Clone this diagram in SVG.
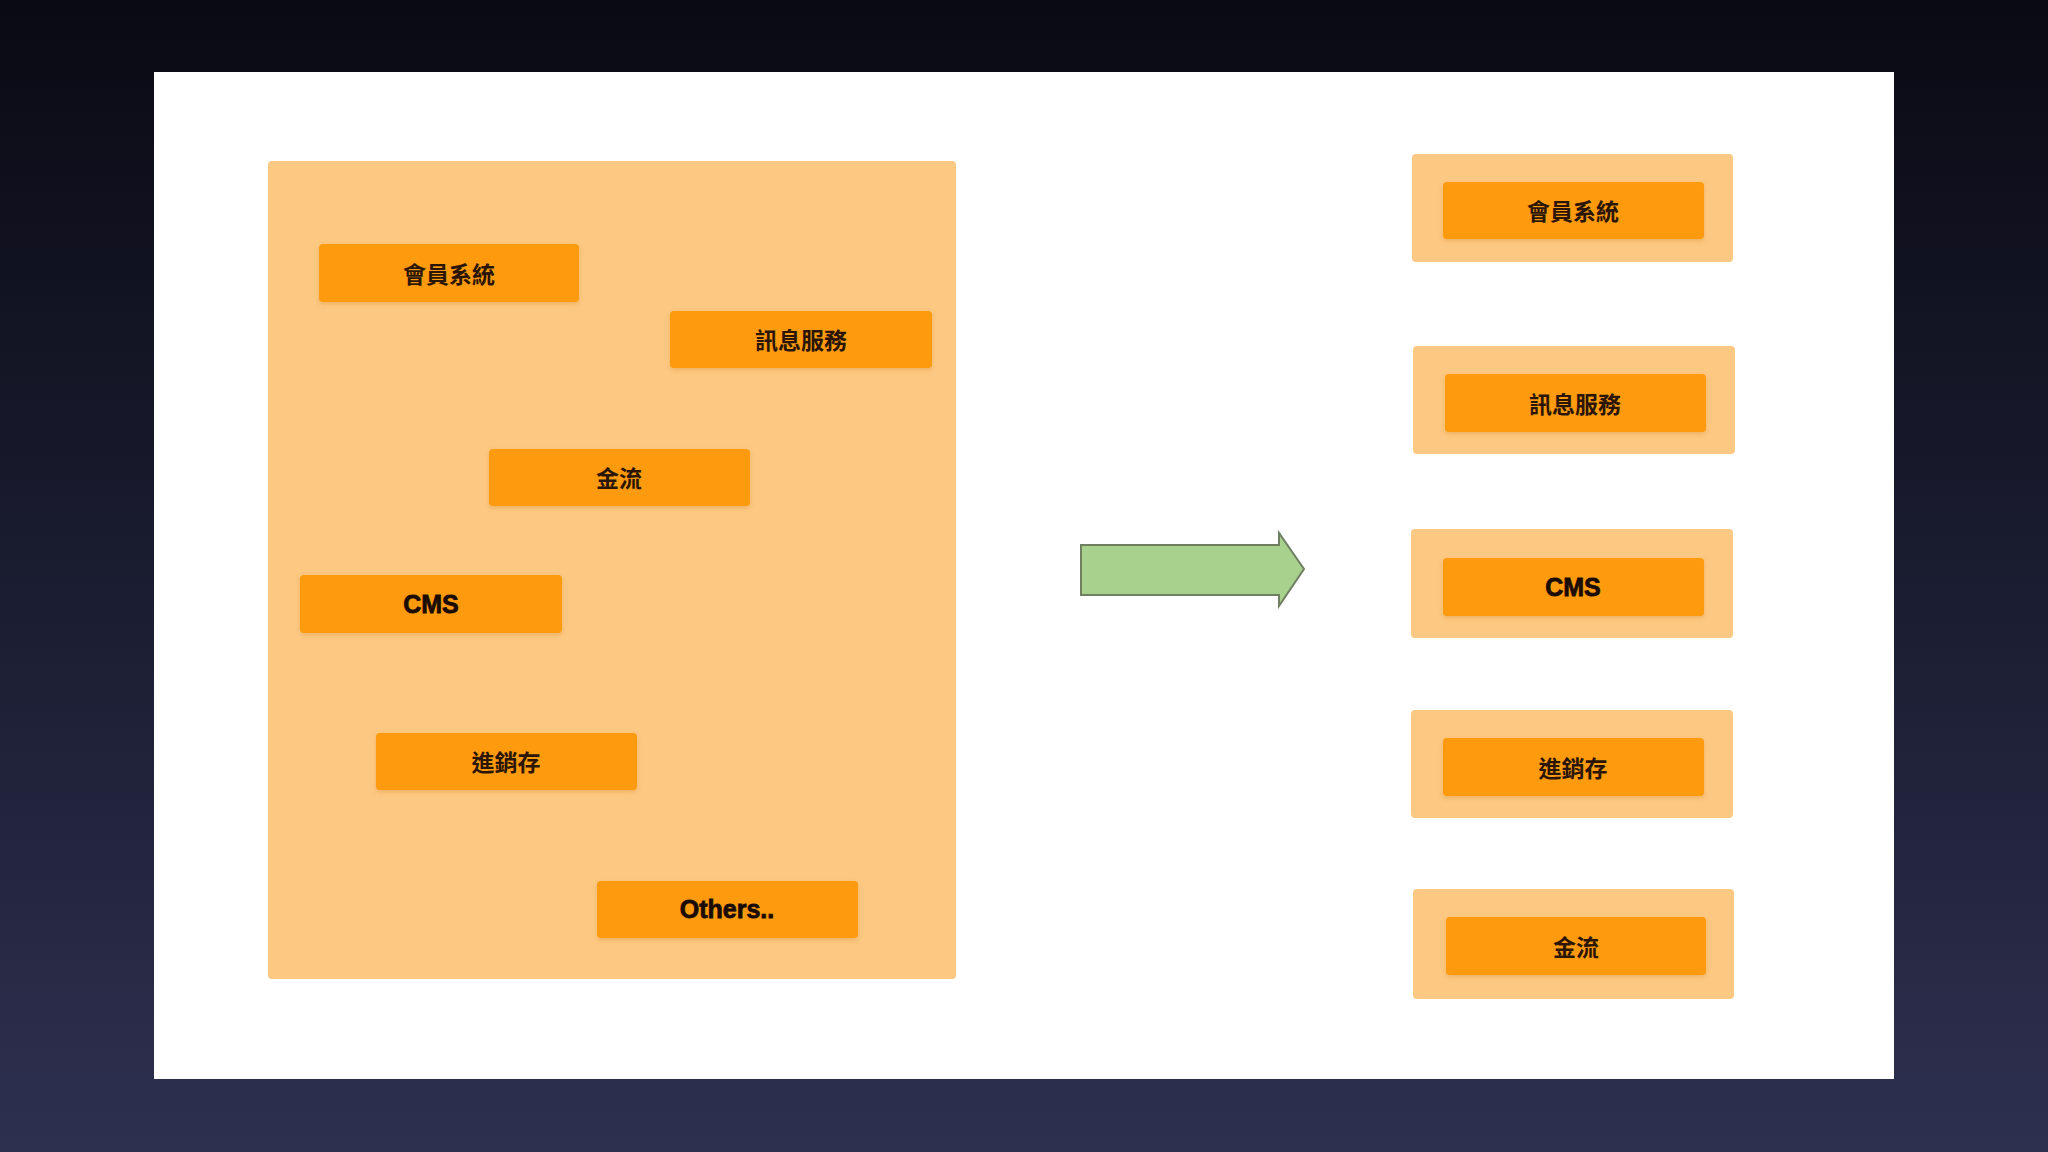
<svg xmlns="http://www.w3.org/2000/svg" width="2048" height="1152" viewBox="0 0 2048 1152">
<defs>
<linearGradient id="bg" x1="0" y1="0" x2="0" y2="1">
<stop offset="0" stop-color="#0a0a14"/>
<stop offset="0.5" stop-color="#1a1c30"/>
<stop offset="1" stop-color="#2e3050"/>
</linearGradient>
<filter id="sh" x="-10%" y="-10%" width="120%" height="130%">
<feDropShadow dx="0" dy="2" stdDeviation="2" flood-color="#c07000" flood-opacity="0.25"/>
</filter>
</defs>
<style>
.outer{fill:#fdc882;}
.inner{fill:#fd9a0c;filter:url(#sh);}
.t{font-family:"Liberation Sans","Noto Sans CJK TC",sans-serif;font-weight:bold;font-size:23px;fill:#2b1606;text-anchor:middle;dominant-baseline:central;}
.tc{font-family:"Noto Sans CJK TC",sans-serif;}
.te{font-size:25px;fill:#1a0c02;stroke:#1a0c02;stroke-width:0.8px;}
</style>
<rect x="0" y="0" width="2048" height="1152" fill="url(#bg)"/>
<rect x="154" y="72" width="1740" height="1007" fill="#ffffff"/>

<g id="monolith">
<rect class="outer" x="268" y="161" width="688" height="818" rx="4"/>
</g>
<g id="l-member"><rect class="inner" x="319" y="244" width="260" height="58" rx="4"/><text class="t tc" x="449" y="273">會員系統</text></g>
<g id="l-message"><rect class="inner" x="670" y="311" width="262" height="57" rx="4"/><text class="t tc" x="801" y="339">訊息服務</text></g>
<g id="l-payment"><rect class="inner" x="489" y="449" width="261" height="57" rx="4"/><text class="t tc" x="619" y="477">金流</text></g>
<g id="l-cms"><rect class="inner" x="300" y="575" width="262" height="58" rx="4"/><text class="t te" x="431" y="604">CMS</text></g>
<g id="l-inventory"><rect class="inner" x="376" y="733" width="261" height="57" rx="4"/><text class="t tc" x="506" y="761">進銷存</text></g>
<g id="l-others"><rect class="inner" x="597" y="881" width="261" height="57" rx="4"/><text class="t te" x="727" y="909">Others..</text></g>

<g id="connectors">
<polygon points="1081,545 1279,545 1279,533 1304,569 1279,606 1279,595 1081,595" fill="#a9d18e" stroke="#6e7f62" stroke-width="2"/>
</g>

<g id="r-member"><rect class="outer" x="1412" y="154" width="321" height="108" rx="4"/><rect class="inner" x="1443" y="182" width="261" height="57" rx="4"/><text class="t tc" x="1573" y="210">會員系統</text></g>
<g id="r-message"><rect class="outer" x="1413" y="346" width="322" height="108" rx="4"/><rect class="inner" x="1445" y="374" width="261" height="58" rx="4"/><text class="t tc" x="1575" y="403">訊息服務</text></g>
<g id="r-cms"><rect class="outer" x="1411" y="529" width="322" height="109" rx="4"/><rect class="inner" x="1443" y="558" width="261" height="58" rx="4"/><text class="t te" x="1573" y="587">CMS</text></g>
<g id="r-inventory"><rect class="outer" x="1411" y="710" width="322" height="108" rx="4"/><rect class="inner" x="1443" y="738" width="261" height="58" rx="4"/><text class="t tc" x="1573" y="767">進銷存</text></g>
<g id="r-payment"><rect class="outer" x="1413" y="889" width="321" height="110" rx="4"/><rect class="inner" x="1446" y="917" width="260" height="58" rx="4"/><text class="t tc" x="1576" y="946">金流</text></g>
</svg>
